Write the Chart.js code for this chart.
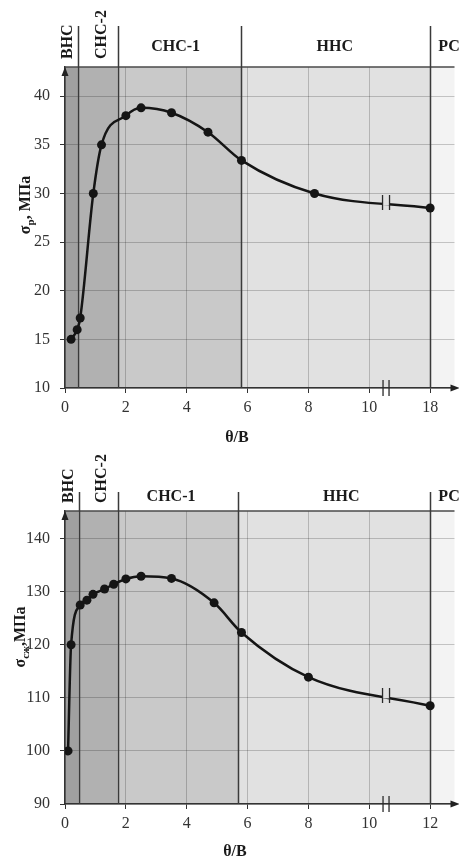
<!DOCTYPE html>
<html><head><meta charset="utf-8">
<script src="https://cdn.jsdelivr.net/npm/chart.js@4"></script>
<style>
body{margin:0;background:#fff;width:459px;height:859px;overflow:hidden;position:relative}
canvas{position:absolute;left:0}
#c1{top:0}
#c2{top:450px}
</style>
</head><body>
<canvas id="c1" width="459" height="450"></canvas>
<canvas id="c2" width="459" height="409"></canvas>
<script>
// ---- data ----
const zoneLabels = ['ВНС','СНС-2','СНС-1','ННС','РС'];
const zoneColors = ['#a0a0a0','#b1b1b1','#c9c9c9','#e1e1e1','#f3f3f3'];
const topZoneBounds = [0, 0.42, 1.73, 5.8, 12, 12.8];
const botZoneBounds = [0, 0.45, 1.73, 5.7, 12, 12.8];
const xTickValues = [0, 2, 4, 6, 8, 10, 12];
const topXTickLabels = ['0','2','4','6','8','10','18'];
const botXTickLabels = ['0','2','4','6','8','10','12'];
const topYTicks = [10, 15, 20, 25, 30, 35, 40];
const botYTicks = [90, 100, 110, 120, 130, 140];
const topX = [0.2, 0.4, 0.5, 0.93, 1.2, 2.0, 2.5, 3.5, 4.7, 5.8, 8.2, 12];
const topY = [15, 16, 17.2, 30, 35, 38, 38.8, 38.3, 36.3, 33.4, 30, 28.5];
const botX = [0.1, 0.2, 0.5, 0.72, 0.92, 1.3, 1.6, 2.0, 2.5, 3.5, 4.9, 5.8, 8.0, 12];
const botY = [100, 120, 127.5, 128.4, 129.5, 130.5, 131.4, 132.4, 132.9, 132.5, 127.9, 122.3, 113.9, 108.5];
const breakX = 10.55;
const xTitle = 'θ/В';

Chart.defaults.font.family = '"Liberation Serif", "Times New Roman", serif';
Chart.defaults.font.size = 16;
Chart.defaults.color = '#333';

const BOLD = 'bold 16px "Liberation Serif", serif';

function drawYTitle(ctx, cx, cy, main, sub, rest){
  ctx.save();
  ctx.translate(cx, cy);
  ctx.rotate(-Math.PI/2);
  ctx.fillStyle = '#1a1a1a';
  ctx.textBaseline = 'alphabetic';
  ctx.textAlign = 'left';
  const fMain = BOLD, fSub = 'bold 11px "Liberation Serif", serif';
  ctx.font = fMain; const w1 = ctx.measureText(main).width;
  ctx.font = fSub; const w2 = ctx.measureText(sub).width;
  ctx.font = fMain; const w3 = ctx.measureText(rest).width;
  let x = -(w1 + w2 + w3)/2;
  ctx.font = fMain; ctx.fillText(main, x, 5); x += w1;
  ctx.font = fSub; ctx.fillText(sub, x, 9); x += w2;
  ctx.font = fMain; ctx.fillText(rest, x, 5);
  ctx.restore();
}

function curvePixelAt(chart, xs, ys, xv){
  const sx = chart.scales.x, sy = chart.scales.y;
  for (let i = 0; i < xs.length - 1; i++){
    if (xv >= xs[i] && xv <= xs[i+1]){
      const t = (xv - xs[i])/(xs[i+1]-xs[i]);
      return sy.getPixelForValue(ys[i] + t*(ys[i+1]-ys[i]));
    }
  }
  return sy.getPixelForValue(ys[ys.length-1]);
}

function makeDecor(cfg){
  return {
    id: 'decor' + cfg.id,
    beforeDraw(chart){
      const {ctx, chartArea:a, scales:{x}} = chart;
      ctx.save();
      for (let i = 0; i < 5; i++){
        const x0 = x.getPixelForValue(cfg.bounds[i]);
        const x1 = i === 4 ? a.right : x.getPixelForValue(cfg.bounds[i+1]);
        ctx.fillStyle = zoneColors[i];
        ctx.fillRect(x0, a.top, x1 - x0, a.bottom - a.top);
      }
      ctx.restore();
    },
    beforeDatasetsDraw(chart){
      const {ctx, chartArea:a, scales:{x}} = chart;
      ctx.save();
      // top border
      ctx.strokeStyle = '#4a4a4a'; ctx.lineWidth = 1.5;
      ctx.beginPath(); ctx.moveTo(a.left, a.top); ctx.lineTo(a.right, a.top); ctx.stroke();
      // zone boundary lines
      ctx.strokeStyle = '#3a3a3a'; ctx.lineWidth = 1.5;
      for (let i = 1; i <= 4; i++){
        const px = Math.round(x.getPixelForValue(cfg.bounds[i])) + 0.5;
        ctx.beginPath(); ctx.moveTo(px, cfg.headerTop); ctx.lineTo(px, a.bottom); ctx.stroke();
      }
      // header labels
      ctx.fillStyle = '#1a1a1a';
      ctx.font = BOLD;
      const b1 = x.getPixelForValue(cfg.bounds[1]);
      const b2 = x.getPixelForValue(cfg.bounds[2]);
      const b3 = x.getPixelForValue(cfg.bounds[3]);
      const b4 = x.getPixelForValue(cfg.bounds[4]);
      [[zoneLabels[0], b1 - 10], [zoneLabels[1], b2 - 16]].forEach(([t, cx]) => {
        ctx.save();
        ctx.translate(cx, a.top - 8);
        ctx.rotate(-Math.PI/2);
        ctx.textAlign = 'left'; ctx.textBaseline = 'middle';
        ctx.fillText(t, 0, 0);
        ctx.restore();
      });
      ctx.textAlign = 'center'; ctx.textBaseline = 'middle';
      ctx.fillText(zoneLabels[2], (b2 + b3)/2 + cfg.off2, a.top - cfg.labelDy);
      ctx.fillText(zoneLabels[3], (b3 + b4)/2 + cfg.off3, a.top - cfg.labelDy);
      ctx.textAlign = 'left';
      ctx.fillText(zoneLabels[4], b4 + 8, a.top - cfg.labelDy);
      ctx.restore();
    },
    afterDatasetsDraw(chart){
      const {ctx, chartArea:a, scales:{x}} = chart;
      ctx.save();
      // curve break
      const bx = x.getPixelForValue(breakX);
      const by = curvePixelAt(chart, cfg.xs, cfg.ys, breakX);
      ctx.fillStyle = zoneColors[3];
      ctx.fillRect(bx - 3.5, by - 3, 7, 6);
      ctx.strokeStyle = '#2a2a2a'; ctx.lineWidth = 1.3;
      ctx.beginPath();
      ctx.moveTo(bx - 3.5, by - 7.5); ctx.lineTo(bx - 3.5, by + 7.5);
      ctx.moveTo(bx + 3.5, by - 7.5); ctx.lineTo(bx + 3.5, by + 7.5);
      ctx.stroke();
      // axis break
      ctx.beginPath();
      ctx.moveTo(bx - 3, a.bottom - 8); ctx.lineTo(bx - 3, a.bottom + 8);
      ctx.moveTo(bx + 3, a.bottom - 8); ctx.lineTo(bx + 3, a.bottom + 8);
      ctx.stroke();
      // arrows
      ctx.fillStyle = '#222';
      ctx.beginPath();
      ctx.moveTo(a.left, a.top); ctx.lineTo(a.left - 3.5, a.top + 9); ctx.lineTo(a.left + 3.5, a.top + 9);
      ctx.closePath(); ctx.fill();
      ctx.beginPath();
      ctx.moveTo(a.right + 5, a.bottom); ctx.lineTo(a.right - 4, a.bottom - 3.5); ctx.lineTo(a.right - 4, a.bottom + 3.5);
      ctx.closePath(); ctx.fill();
      ctx.restore();
    },
    afterDraw(chart){
      const {ctx, chartArea:a} = chart;
      ctx.save();
      drawYTitle(ctx, cfg.yTitleX, cfg.yTitleY, 'σ', cfg.ySub, cfg.yRest);
      ctx.fillStyle = '#1a1a1a';
      ctx.font = BOLD;
      ctx.textAlign = 'center'; ctx.textBaseline = 'middle';
      ctx.fillText(xTitle, cfg.xTitleX, a.bottom + cfg.xTitleDy);
      ctx.restore();
    }
  };
}

function makeChart(canvasId, cfg){
  return new Chart(document.getElementById(canvasId), {
    type: 'line',
    data: {
      datasets: [{
        data: cfg.xs.map((v, i) => ({x: v, y: cfg.ys[i]})),
        borderColor: '#151515',
        backgroundColor: '#151515',
        borderWidth: 2.5,
        pointRadius: 4.5,
        pointBackgroundColor: '#151515',
        pointBorderWidth: 0,
        cubicInterpolationMode: 'monotone',
        tension: 0.4,
        fill: false
      }]
    },
    options: {
      responsive: false,
      animation: false,
      devicePixelRatio: 1,
      layout: {padding: {top: cfg.padTop, left: 0, right: 0, bottom: 0}},
      plugins: {legend: {display: false}, tooltip: {enabled: false}},
      scales: {
        x: {
          type: 'linear', min: 0, max: 12.8,
          afterBuildTicks: s => { s.ticks = xTickValues.map(v => ({value: v})); },
          afterFit: s => { s.height = cfg.xAxisH; },
          ticks: {
            autoSkip: false, maxRotation: 0, padding: 5, color: '#333',
            callback: (v) => cfg.xLabels[xTickValues.indexOf(v)]
          },
          grid: {color: 'rgba(0,0,0,0.2)', tickColor: '#333', tickLength: 5, lineWidth: 1},
          border: {color: '#333', width: 1.5}
        },
        y: {
          min: cfg.yMin, max: cfg.yMax,
          afterBuildTicks: s => { s.ticks = cfg.yTicks.map(v => ({value: v})); },
          afterFit: s => { s.width = 65; },
          ticks: {padding: 10, color: '#333'},
          grid: {color: 'rgba(0,0,0,0.2)', tickColor: '#333', tickLength: 5, lineWidth: 1},
          border: {color: '#333', width: 1.5}
        }
      }
    },
    plugins: [makeDecor(cfg)]
  });
}

makeChart('c1', {
  id: 1, xs: topX, ys: topY, bounds: topZoneBounds, xLabels: topXTickLabels,
  yTicks: topYTicks, yMin: 10, yMax: 43, padTop: 67, xAxisH: 62,
  headerTop: 26, labelDy: 20, off2: -4, off3: -1,
  yTitleX: 25, yTitleY: 205, ySub: 'р', yRest: ', МПа',
  xTitleX: 237, xTitleDy: 50
});
makeChart('c2', {
  id: 2, xs: botX, ys: botY, bounds: botZoneBounds, xLabels: botXTickLabels,
  yTicks: botYTicks, yMin: 90, yMax: 145.2, padTop: 61, xAxisH: 55,
  headerTop: 42, labelDy: 14, off2: -7, off3: 7,
  yTitleX: 20, yTitleY: 187, ySub: 'сж', yRest: ',МПа',
  xTitleX: 235, xTitleDy: 48
});
</script>
</body></html>
